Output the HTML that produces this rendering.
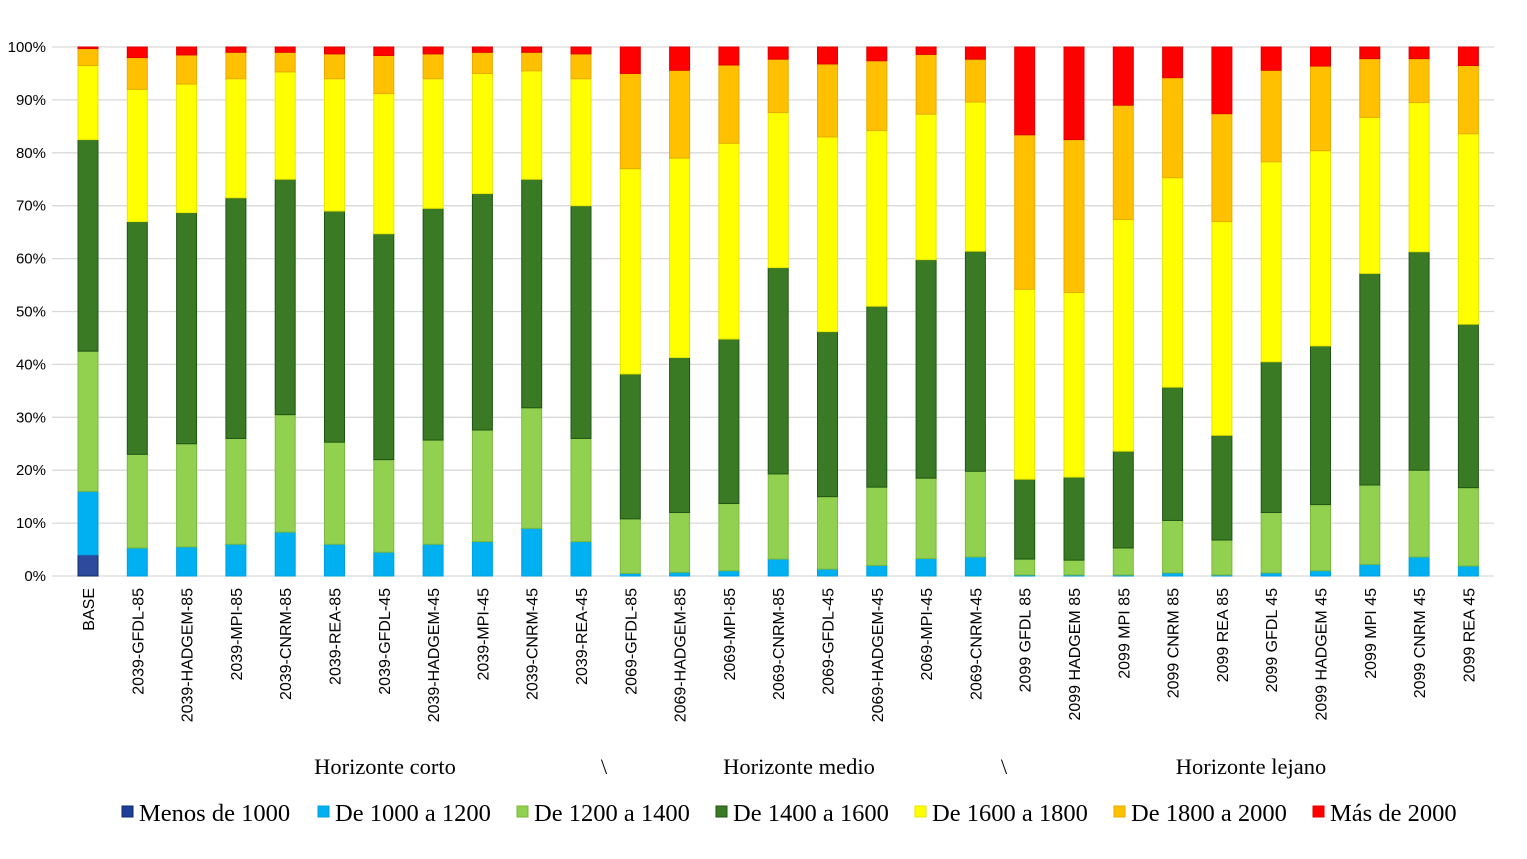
<!DOCTYPE html>
<html><head><meta charset="utf-8"><style>
body{margin:0;background:#fff;}
svg text{font-family:"Liberation Serif",serif;fill:#000;}
svg text.sans{font-family:"Liberation Sans",sans-serif;}
</style></head><body>
<svg id="chart" width="1527" height="854" xmlns="http://www.w3.org/2000/svg">
<g id="grid"></g><g id="bars"></g><g id="labels"></g>
<text x="385" y="774" font-size="22.5" text-anchor="middle">Horizonte corto</text>
<text x="604" y="774" font-size="22.5" text-anchor="middle">\</text>
<text x="799" y="774" font-size="22.5" text-anchor="middle">Horizonte medio</text>
<text x="1004" y="774" font-size="22.5" text-anchor="middle">\</text>
<text x="1251" y="774" font-size="22.5" text-anchor="middle">Horizonte lejano</text>
<g id="legend"></g>
</svg>
<script>
const categories=["BASE","2039-GFDL-85","2039-HADGEM-85","2039-MPI-85","2039-CNRM-85","2039-REA-85","2039-GFDL-45","2039-HADGEM-45","2039-MPI-45","2039-CNRM-45","2039-REA-45","2069-GFDL-85","2069-HADGEM-85","2069-MPI-85","2069-CNRM-85","2069-GFDL-45","2069-HADGEM-45","2069-MPI-45","2069-CNRM-45","2099 GFDL 85","2099 HADGEM 85","2099 MPI 85","2099 CNRM 85","2099 REA 85","2099 GFDL 45","2099 HADGEM 45","2099 MPI 45","2099 CNRM 45","2099 REA 45"];
const seriesNames=["Menos de 1000","De 1000 a 1200","De 1200 a 1400","De 1400 a 1600","De 1600 a 1800","De 1800 a 2000","Más de 2000"];
// cumulative tops (%) per series
const cumMenos1000=[4,0,0,0,0,0,0,0,0,0,0,0,0,0,0,0,0,0,0,0,0,0,0,0,0,0,0,0,0];
const cum1000_1200=[16,5.3,5.5,6,8.3,6,4.5,6,6.5,9,6.5,0.5,0.7,1,3.2,1.3,2,3.3,3.6,0.2,0.2,0.2,0.6,0.2,0.6,1,2.2,3.6,1.9];
const cum1200_1400=[42.5,23,25,26,30.5,25.3,22,25.7,27.6,31.8,26,10.8,12,13.7,19.3,15,16.8,18.5,19.8,3.2,3,5.3,10.5,6.8,12,13.5,17.2,20,16.7];
const cum1400_1600=[82.5,67,68.7,71.5,75,69,64.7,69.5,72.3,75,70,38.2,41.3,44.8,58.3,46.2,51,59.8,61.4,18.3,18.7,23.6,35.7,26.6,40.5,43.5,57.2,61.3,47.6];
const cum1600_1800=[96.5,92,93,94,95.3,94,91.2,94,95,95.5,94,77,79,81.8,87.6,83,84.2,87.3,89.6,54.2,53.6,67.4,75.3,67,78.3,80.4,86.7,89.5,83.6];
const cum1800_2000=[99.7,98,98.5,99,99,98.7,98.4,98.7,99,99,98.7,95,95.6,96.6,97.7,96.8,97.4,98.6,97.7,83.4,82.5,89,94.2,87.4,95.6,96.4,97.8,97.8,96.5];
const cumMas2000=categories.map(()=>100);
const yTicks=[0,10,20,30,40,50,60,70,80,90,100];
const cums=[cumMenos1000,cum1000_1200,cum1200_1400,cum1400_1600,cum1600_1800,cum1800_2000,cumMas2000];
const fills=["#2d4a9c","#00b0f0","#92d050","#3b7a24","#ffff00","#ffc000","#ff0000"];
const strokes=["#0d2a6e","#00a0e0","#7ab83c","#1f5514","#e6e600","#e6ac00","#e00000"];
const legFills=["#1f3f99","#00b0f0","#92d050","#3b7a24","#ffff00","#ffc000","#ff0000"];
const NS="http://www.w3.org/2000/svg";
const y=v=>576-v*5.29;
const x=i=>88+i*49.3;
function mk(t,a,p){const e=document.createElementNS(NS,t);for(const k in a)e.setAttribute(k,a[k]);p.appendChild(e);return e;}
const grid=document.getElementById('grid');
yTicks.forEach(t=>{
  const l=mk('line',{x1:52,x2:1494,y1:y(t),y2:y(t),stroke:'#d9d9d9','stroke-width':1.3},grid);
  
  
  const tx=mk('text',{x:46,y:y(t)+5,'font-size':15,'text-anchor':'end','class':'sans'},grid);
  tx.textContent=t+'%';
  
  
});
const bars=document.getElementById('bars');
categories.forEach((c,i)=>{
  let prev=0;
  cums.forEach((arr,s)=>{
    const top=arr[i];
    if(top-prev>0.05){
      const r=mk('rect',{x:x(i)-10,y:y(top),width:20,height:y(prev)-y(top),fill:fills[s],stroke:strokes[s],'stroke-width':1},bars);
      
      
    }
    prev=Math.max(prev,top);
  });
  const t=mk('text',{x:0,y:0,'font-size':16,'text-anchor':'end','class':'sans',transform:`translate(${x(i)+6},588) rotate(-90)`},document.getElementById('labels'));
  t.textContent=c;
  
  
});
const lg=document.getElementById('legend');
const legX=[122,318,517,716,915,1114,1313];
seriesNames.forEach((n,s)=>{
  const r=mk('rect',{x:legX[s],y:806,width:11,height:11,fill:legFills[s],stroke:strokes[s]},lg);
  
  
  const t=mk('text',{x:legX[s]+17,y:821,'font-size':24.5},lg);
  t.textContent=n;
  
  
});
</script>
</body></html>
